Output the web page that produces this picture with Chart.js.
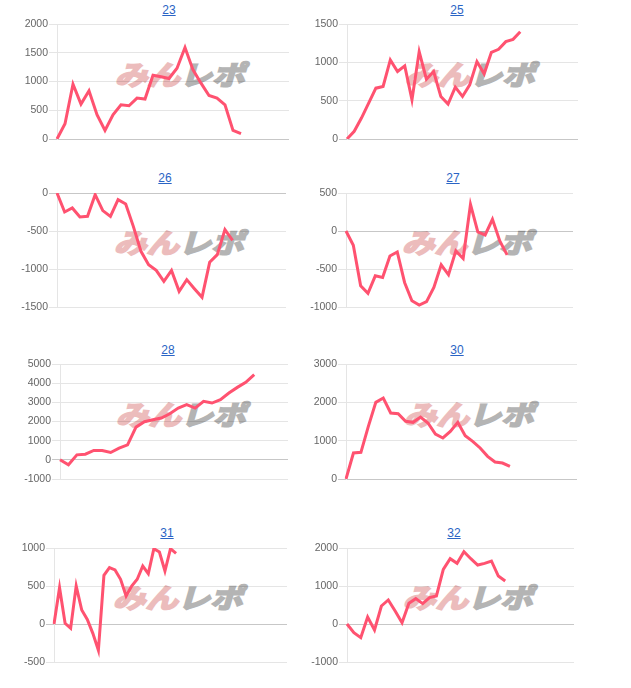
<!DOCTYPE html>
<html><head><meta charset="utf-8">
<script src="https://cdn.jsdelivr.net/npm/chart.js@4.4.0/dist/chart.umd.min.js"></script>
<style>
body{margin:0;background:#fff;width:631px;height:688px;position:relative;overflow:hidden;font-family:"Liberation Sans",Arial,sans-serif}
.ttl{position:absolute;font-size:12px;line-height:14px;transform:translate(-50%,-50%);color:#2a64c5;text-decoration:underline;white-space:nowrap}
.wm{position:absolute;transform:translate(-50%,-50%) skewX(-16deg) scaleX(1.2);font-family:"Noto Sans CJK JP";font-weight:700;font-size:27px;line-height:28px;white-space:nowrap;z-index:0;letter-spacing:0px}
.wm .a{color:rgb(236,188,188);-webkit-text-stroke:2px rgb(236,188,188)}
.wm .b{color:rgb(180,180,180);-webkit-text-stroke:2px rgb(180,180,180)}
canvas{position:absolute;z-index:1}
</style></head><body>
<script>
// categories (hidden day labels on the x axis)
const dayLabels = ["1","2","3","4","5","6","7","8","9","10","11","12","13","14","15","16","17","18","19","20","21","22","23","24","25","26","27","28","29","30","31","32","33","34","35","36","37","38","39","40","41","42","43"];

// chart titles
const titles = ["23","25","26","27","28","30","31","32"];

// number of categories per chart
const days23 = 30, days25 = 33, days26 = 31, days27 = 32, days28 = 28, days30 = 32, days31 = 43, days32 = 34;

// series values
const values23 = [0,266,954,607,838,422,150,422,595,578,711,694,1110,1081,1052,1231,1590,1202,971,757,711,595,150,92];
const values25 = [0,100,273,468,663,685,1032,880,954,510,1140,780,880,555,455,676,555,706,1010,850,1131,1170,1270,1300,1400];
const values26 = [0,-250,-197,-316,-307,-22,-232,-307,-88,-145,-439,-768,-943,-1018,-1162,-1018,-1294,-1140,-1259,-1373,-912,-811,-482,-623];
const values27 = [0,-188,-720,-821,-590,-611,-328,-275,-677,-917,-974,-930,-742,-445,-576,-262,-362,349,-13,-52,153,-131,-314];
const values28 = [0,-261,261,296,488,488,383,610,784,1707,1986,2091,2178,2404,2700,2875,2700,3049,2962,3136,3484,3780,4042,4443];
const values30 = [0,678,696,1374,2000,2113,1722,1704,1504,1478,1617,1461,1174,1070,1243,1478,1130,983,809,591,443,417,330];
const values31 = [0,478,9,-57,500,184,61,-123,-346,640,741,711,588,368,500,588,763,662,991,947,697,991,930];
const values32 = [0,-228,-360,184,-158,474,632,342,35,544,667,535,693,737,1439,1719,1596,1904,1719,1553,1596,1658,1263,1132];

// y tick labels
const ticks23 = [0,500,1000,1500,2000];
const ticks25 = [0,500,1000,1500];
const ticks26 = [-1500,-1000,-500,0];
const ticks27 = [-1000,-500,0,500];
const ticks28 = [-1000,0,1000,2000,3000,4000,5000];
const ticks30 = [0,1000,2000,3000];
const ticks31 = [-500,0,500,1000];
const ticks32 = [-1000,0,1000,2000];

// layout (plot area boxes in page pixels, title centres)
const layoutBoxes = [
  {L:57, R:289, T:24, B:139, tx:169, ty:10},
  {L:347, R:578, T:24, B:139, tx:457, ty:10},
  {L:57, R:286, T:193, B:307, tx:165, ty:178},
  {L:346, R:573, T:193, B:307, tx:453, ty:178},
  {L:60, R:288, T:364, B:479, tx:168, ty:350},
  {L:346, R:577, T:364, B:479, tx:457, ty:350},
  {L:54, R:287, T:548, B:662, tx:167, ty:533},
  {L:347, R:574, T:548, B:662, tx:454, ty:533}
];

const charts = [
  [days23, values23, ticks23],
  [days25, values25, ticks25],
  [days26, values26, ticks26],
  [days27, values27, ticks27],
  [days28, values28, ticks28],
  [days30, values30, ticks30],
  [days31, values31, ticks31],
  [days32, values32, ticks32]
];

const AXW = 45, PADT = 10, PADR = 10;

charts.forEach((c, i) => {
  const [nDays, vals, tks] = c;
  const b = layoutBoxes[i];

  const a = document.createElement('a');
  a.className = 'ttl'; a.href = '#'; a.textContent = titles[i];
  a.style.left = b.tx + 'px'; a.style.top = b.ty + 'px';
  document.body.appendChild(a);

  const wm = document.createElement('div');
  wm.className = 'wm';
  wm.innerHTML = '<span class="a">みん</span><span class="b">レポ</span>';
  wm.style.left = ((b.L + b.R) / 2 + 10) + 'px';
  wm.style.top = ((b.T + b.B) / 2 - 8) + 'px';
  document.body.appendChild(wm);

  const cv = document.createElement('canvas');
  const w = b.R - b.L + AXW + PADR, h = b.B - b.T + 2 * PADT;
  cv.width = w; cv.height = h;
  cv.style.width = w + 'px'; cv.style.height = h + 'px';
  cv.style.left = (b.L - AXW) + 'px'; cv.style.top = (b.T - PADT) + 'px';
  document.body.appendChild(cv);

  new Chart(cv, {
    type: 'line',
    data: {
      labels: dayLabels.slice(0, nDays),
      datasets: [{
        data: vals,
        borderColor: 'rgb(255, 82, 112)',
        backgroundColor: 'rgb(255, 82, 112)',
        borderWidth: 3,
        pointRadius: 0,
        pointHoverRadius: 0,
        tension: 0,
        fill: false
      }]
    },
    options: {
      responsive: false,
      animation: false,
      devicePixelRatio: 1,
      layout: {padding: {left: 0, top: PADT, right: PADR, bottom: PADT}},
      plugins: {legend: {display: false}, title: {display: false}, tooltip: {enabled: false}},
      scales: {
        x: {display: false, offset: false},
        y: {
          min: tks[0], max: tks[tks.length - 1],
          afterBuildTicks: s => { s.ticks = tks.map(v => ({value: v})); },
          afterFit: s => { s.width = AXW; },
          grid: {
            color: ctx => (ctx.tick && ctx.tick.value === 0) ? 'rgba(0,0,0,0.22)' : 'rgba(0,0,0,0.1)',
            tickLength: 8,
            lineWidth: 1
          },
          border: {display: true, color: 'rgba(0,0,0,0.1)'},
          ticks: {
            color: '#666',
            padding: 1,
            callback: v => String(v),
            font: {family: '"Liberation Sans", Arial, sans-serif', size: 10.5}
          }
        }
      }
    }
  });
});
</script>
</body></html>
